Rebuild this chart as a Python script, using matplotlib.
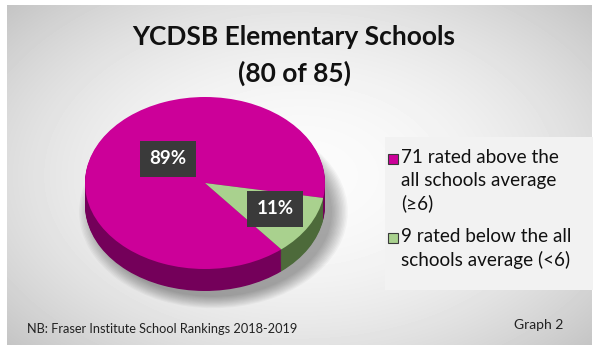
import numpy as np
import matplotlib.pyplot as plt
from matplotlib.patches import Rectangle

# chart content
TITLE_LINES = ["YCDSB Elementary Schools", "(80 of 85)"]
CATEGORIES = [
    "71 rated above the\nall schools average\n(≥6)",
    "9 rated below the all\nschools average (<6)",
]
COUNTS = [71, 9]
FOOTNOTE = "NB: Fraser Institute School Rankings 2018-2019"
GRAPH_LABEL = "Graph 2"

TOP_COLORS = ["#cc0099", "#a9d18e"]
SIDE_COLORS = ["#74005a", "#4d6a3a"]
LABEL_RADII = [0.42, 0.66]
LABEL_SHIFT = [-12, 3]  # degrees, nudges each label off the wedge middle

# layout in pixels (figure is 600x352)
W, H = 600, 352
CX, CY, RX, RY, DEPTH = 205, 183, 120, 86, 22

plt.rcParams["font.family"] = ["Lato", "DejaVu Sans"]

fig = plt.figure(figsize=(W / 100, H / 100), dpi=100)
fig.patch.set_facecolor("white")

# background panel with a soft radial gradient
bg = fig.add_axes([0, 0, 1, 1])
yy, xx = np.mgrid[5:345, 7:592]
r2 = ((xx - 300) / 330.0) ** 2 + ((yy - 175) / 210.0) ** 2
shade = 0.985 - 0.15 * r2
bg.imshow(shade, cmap="gray", vmin=0, vmax=1, extent=(7, 592, 345, 5),
          aspect="auto", interpolation="bilinear")
bg.add_patch(Rectangle((385, 137), 208, 153, fc="#f2f2f2", ec="none"))
bg.set_xlim(0, W)
bg.set_ylim(H, 0)
bg.axis("off")

# title
bg.text(294, 37, TITLE_LINES[0], ha="center", va="center", fontsize=19,
        fontweight="bold", color="#111111")
bg.text(294, 73, TITLE_LINES[1], ha="center", va="center", fontsize=19,
        fontweight="bold", color="#111111")

# pie, squashed into an ellipse with a stacked side for depth
ax = fig.add_axes([(CX - 1.2 * RX) / W, (H - (CY + 1.5 * RY)) / H,
                   2.4 * RX / W, 2.7 * RY / H])
ax.set_facecolor("none")
depth = DEPTH / RY

# soft shadow under the pie
for k in range(12):
    ax.pie([1], colors=["black"], radius=1.12 - 0.012 * k,
           center=(0.07, -depth - 0.08),
           wedgeprops=dict(linewidth=0, alpha=0.03))

for d in np.linspace(depth, 0, 24)[:-1]:
    ax.pie(COUNTS, colors=SIDE_COLORS, startangle=-10, center=(0, -d),
           wedgeprops=dict(linewidth=0))

wedges, _, autotexts = ax.pie(
    COUNTS, colors=TOP_COLORS, startangle=-10, autopct="%1.0f%%",
    wedgeprops=dict(linewidth=0),
    textprops=dict(color="white", fontsize=13.5, fontweight="bold"),
)
for w, t, rad, shift in zip(wedges, autotexts, LABEL_RADII, LABEL_SHIFT):
    mid = np.deg2rad((w.theta1 + w.theta2) / 2 + shift)
    t.set_position((rad * np.cos(mid), rad * np.sin(mid)))
    t.set_ha("center")
    t.set_va("center")
    t.set_bbox(dict(boxstyle="square,pad=0.5", fc="#3a3a3a", ec="none"))

ax.set_aspect("auto")
ax.set_xlim(-1.2, 1.2)
ax.set_ylim(-1.5, 1.2)
ax.axis("off")

# legend on the right
entry_tops = [149, 228]
for label, color, top in zip(CATEGORIES, TOP_COLORS, entry_tops):
    bg.add_patch(Rectangle((388, top + 5), 10, 10, fc=color, ec="#3a3a3a", lw=0.8))
    bg.text(401, top, label, ha="left", va="top", fontsize=13.6,
            linespacing=1.4, color="#111111")

# footer
bg.text(27, 329, FOOTNOTE, ha="left", va="center", fontsize=9.2, color="#222222")
bg.text(563, 325, GRAPH_LABEL, ha="right", va="center", fontsize=10, color="#222222")

fig.savefig("out.png", dpi=100)
